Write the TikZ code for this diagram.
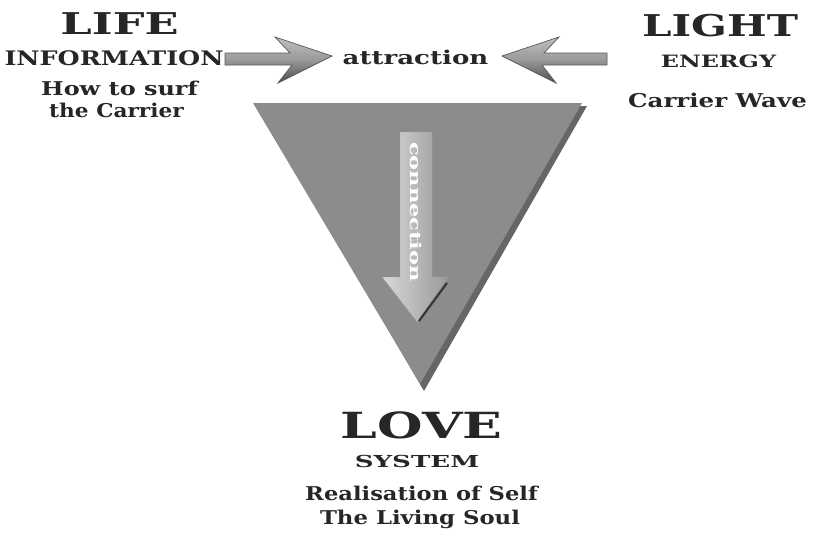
\documentclass[tikz,border=0pt]{standalone}
\usepackage{fontspec}
\setmainfont{DejaVu Serif}
\newfontfamily\wide{DejaVu Serif Bold}
\begin{document}
\begin{tikzpicture}[x=1pt,y=-1pt,
  txt/.style={text=black!85, inner sep=0pt, align=center},
  blockarrow/.style={draw=black!65, line width=0.7pt, top color=black!25, bottom color=black!70, middle color=black!40}]
\useasboundingbox (0,0) rectangle (821,533);
\fill[white] (0,0) rectangle (821,533);
% triangle with shadow
\fill[black!60] (260,108) -- (587,106) -- (424,391) -- cycle;
\fill[black!45] (253,103) -- (582,103) -- (420,384) -- cycle;
% connection arrow
\shade[left color=black!15, right color=black!40, draw=black!40] (400,132) -- (432,132) -- (432,277) -- (448,277) -- (417,322) -- (382,277) -- (400,277) -- cycle;
\draw[black!80, line width=2pt] (447,283) -- (419,321);
\node[rotate=-90, font=\wide\fontsize{15}{15}\selectfont, text=white, inner sep=0pt] (conn) at (416,212) {\scalebox{1.5}[1]{connection}};
% texts
\node[txt, font=\wide\fontsize{30}{30}\selectfont] (life) at (119.5,24) {\scalebox{1.49}[1]{LIFE}};
\node[txt, font=\wide\fontsize{20}{20}\selectfont] (info) at (114,58) {\scalebox{1.27}[1]{INFORMATION}};
\node[txt, font=\wide\fontsize{19}{19}\selectfont] (surf) at (119.5,88) {\scalebox{1.26}[1]{How to surf}};
\node[txt, font=\wide\fontsize{19}{19}\selectfont] (carrier) at (116.5,110) {\scalebox{1.14}[1]{the Carrier}};
\node[txt, font=\wide\fontsize{19}{19}\selectfont] (attr) at (415.5,57) {\scalebox{1.37}[1]{attraction}};
\node[txt, font=\wide\fontsize{30}{30}\selectfont] (light) at (720,26) {\scalebox{1.4}[1]{LIGHT}};
\node[txt, font=\wide\fontsize{17}{17}\selectfont] (energy) at (718.5,61) {\scalebox{1.4}[1]{ENERGY}};
\node[txt, font=\wide\fontsize{19}{19}\selectfont] (wave) at (717.5,100) {\scalebox{1.29}[1]{Carrier Wave}};
\node[txt, font=\wide\fontsize{36}{36}\selectfont] (love) at (421.5,425) {\scalebox{1.45}[1]{LOVE}};
\node[txt, font=\wide\fontsize{16.5}{16.5}\selectfont] (system) at (417,461) {\scalebox{1.58}[1]{SYSTEM}};
\node[txt, font=\wide\fontsize{19}{19}\selectfont] (real) at (421.5,493) {\scalebox{1.19}[1]{Realisation of Self}};
\node[txt, font=\wide\fontsize{19}{19}\selectfont] (soul) at (420,519) {\scalebox{1.2}[1]{The Living Soul}};
% right arrow
\path[blockarrow] (225,53) -- (290,53) -- (275,37) -- (332,56) -- (278,83) -- (292,65) -- (225,65) -- cycle;
% left arrow (mirror of the right one)
\path[blockarrow] (607,53) -- (544,53) -- (559,37) -- (502,56) -- (556,83) -- (542,65) -- (607,65) -- cycle;
\end{tikzpicture}
\end{document}
